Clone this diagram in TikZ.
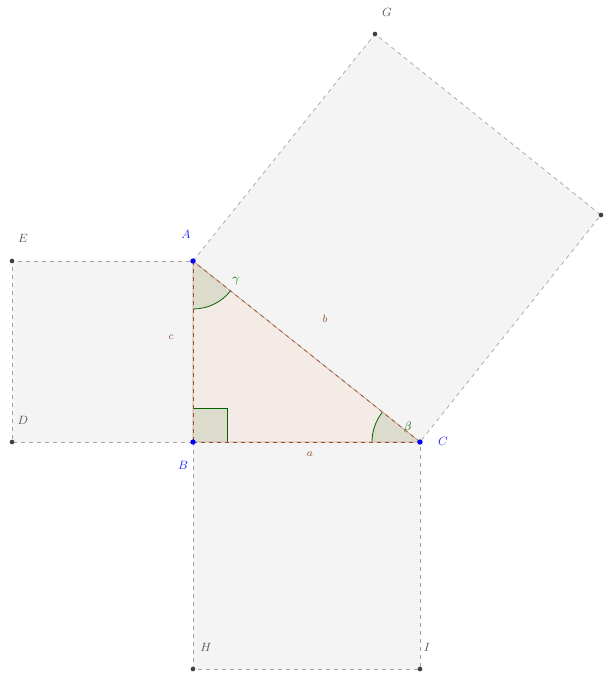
\documentclass[tikz,border=0pt]{standalone}
\usetikzlibrary{calc}
\definecolor{sqfill}{RGB}{244,244,244}
\definecolor{sqline}{RGB}{160,160,160}
\definecolor{tribrown}{RGB}{150,80,45}
\definecolor{trisolid}{RGB}{205,160,140}
\definecolor{trifill}{RGB}{245,235,230}
\definecolor{angfill}{RGB}{220,220,205}
\definecolor{anggreen}{RGB}{0,100,0}
\definecolor{ptblue}{RGB}{0,0,255}
\definecolor{lblblue}{RGB}{40,40,255}
\definecolor{lblgray}{RGB}{90,90,90}
\begin{document}
\begin{tikzpicture}[x=0.75pt,y=-0.75pt,
  square/.style={fill=sqfill,draw=sqline,dashed,line width=0.5pt},
  sidebase/.style={draw=trisolid,line width=0.5pt},
  side/.style={draw=tribrown,dashed,line width=0.5pt},
  angmark/.style={fill=angfill,draw=anggreen,line width=0.6pt},
  bluept/.style={circle,fill=ptblue,inner sep=0pt,minimum size=4pt},
  graypt/.style={circle,fill=black!75,inner sep=0pt,minimum size=3.5pt},
  lblB/.style={text=lblblue,font=\small},
  lblG/.style={text=lblgray,font=\small},
  lblS/.style={text=tribrown,font=\footnotesize},
  lblA/.style={text=anggreen,font=\small}]
\useasboundingbox (0,0) rectangle (608,675);
\coordinate (A) at (193,261);
\coordinate (B) at (193,442);
\coordinate (C) at (420,442);
\coordinate (D) at (12,442);
\coordinate (E) at (12,261);
\coordinate (G) at (375,34);
\coordinate (F) at (601,215);
\coordinate (H) at (193,669);
\coordinate (I) at (420,669);
% squares
\path[square] (A) -- (G) -- (F) -- (C) -- cycle;
\path[square] (B) -- (A) -- (E) -- (D) -- cycle;
\path[square] (B) -- (H) -- (I) -- (C) -- cycle;
% triangle
\fill[trifill] (A) -- (B) -- (C) -- cycle;
% angles
\fill[angfill] (A) -- ($(A)+(0,48)$) arc[start angle=90,end angle=38.57,radius=48] -- cycle;
\draw[anggreen,line width=0.6pt] ($(A)+(0,48)$) arc[start angle=90,end angle=38.57,radius=48];
\fill[angfill] (C) -- ($(C)+(-48,0)$) arc[start angle=180,end angle=218.57,radius=48] -- cycle;
\draw[anggreen,line width=0.6pt] ($(C)+(-48,0)$) arc[start angle=180,end angle=218.57,radius=48];
\fill[angfill] (B) rectangle ++(34,-34);
\draw[anggreen,line width=0.6pt] ($(B)+(0,-34)$) -- ++(34,0) -- ++(0,34);
% sides
\draw[sidebase] (A) -- (B) -- (C) -- cycle;
\draw[side] (A) -- (B);
\draw[side] (B) -- (C);
\draw[side] (C) -- (A);
% points
\node[bluept] (pA) at (A) {};
\node[bluept] (pB) at (B) {};
\node[bluept] (pC) at (C) {};
\node[graypt] (pD) at (D) {};
\node[graypt] (pE) at (E) {};
\node[graypt] (pG) at (G) {};
\node[graypt] (pF) at (F) {};
\node[graypt] (pH) at (H) {};
\node[graypt] (pI) at (I) {};
% labels
\node[lblB] (lA) at (186,234) {$A$};
\node[lblB] (lB) at (183,465) {$B$};
\node[lblB] (lC) at (443,441) {$C$};
\node[lblG] (lE) at (23,238) {$E$};
\node[lblG] (lD) at (23,420) {$D$};
\node[lblG] (lG) at (387,12) {$G$};
\node[lblG] (lH) at (206,647) {$H$};
\node[lblG] (lI) at (427,647) {$I$};
\node[lblS] (la) at (310,454) {$a$};
\node[lblS] (lb) at (325,319) {$b$};
\node[lblS] (lc) at (171,337) {$c$};
\node[lblA] (lg) at (236,281) {$\gamma$};
\node[lblA] (lbeta) at (408,427) {$\beta$};
\end{tikzpicture}
\end{document}
